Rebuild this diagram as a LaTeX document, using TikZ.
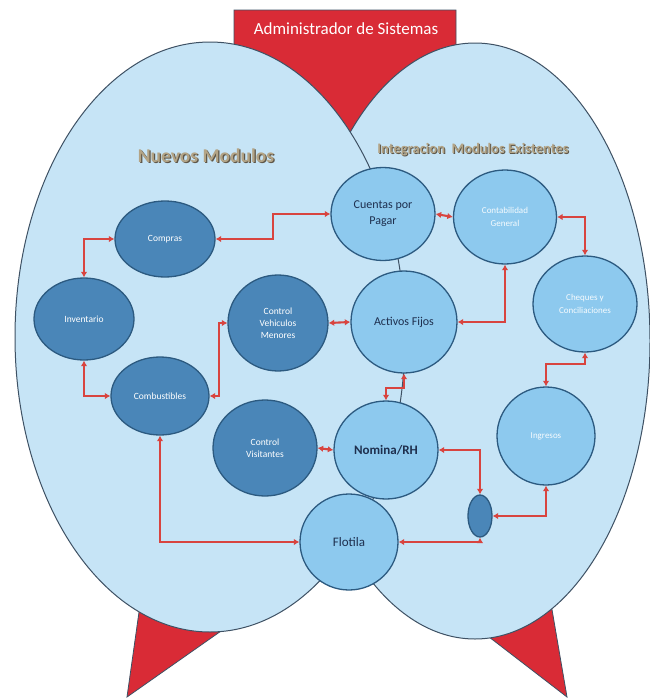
\documentclass[tikz,border=0pt]{standalone}
\usepackage{fontspec}
\setmainfont{Carlito}
\usetikzlibrary{arrows.meta,shapes.geometric}
\definecolor{bgblue}{HTML}{C6E4F6}
\definecolor{edgegray}{HTML}{3E5164}
\definecolor{darkblue}{HTML}{4A86B8}
\definecolor{lightblue}{HTML}{8DC9EE}
\definecolor{nodeedge}{HTML}{2C5A80}
\definecolor{navy}{HTML}{1E2F4E}
\definecolor{bannerred}{HTML}{D92B36}
\definecolor{linkred}{HTML}{D8443F}
\definecolor{titletan}{HTML}{B3A486}
\definecolor{titleshadow}{HTML}{5E5648}
\tikzset{
  bigell/.style={draw=edgegray, fill=bgblue, line width=1pt},
  redpart/.style={draw=edgegray, fill=bannerred, line width=0.8pt},
  mod/.style={ellipse, draw=nodeedge, line width=1.3pt, inner sep=0pt, align=center},
  darkmod/.style={mod, fill=darkblue, text=white, font=\fontsize{9.5}{12}\selectfont},
  lightmod/.style={mod, fill=lightblue, text=navy, font=\fontsize{12}{16}\selectfont},
  palemod/.style={mod, fill=lightblue, text=white!92!lightblue, font=\fontsize{9}{13}\selectfont},
  link/.style={draw=linkred, line width=2.1pt, <->, >={Latex[length=5.5pt,width=6.5pt]}},
  titletext/.style={font=\bfseries, text=titletan}
}
\begin{document}
\begin{tikzpicture}[x=1pt,y=-1pt]
\useasboundingbox (0,0) rectangle (650,699);
\fill[white] (0,0) rectangle (650,699);
% red shapes behind
\path[redpart] (234,10) -- (456,10) -- (456,110) -- (347,215) -- (234,110) -- cycle;
\path[redpart] (141,598) -- (251,610) -- (127,697) -- cycle;
\path[redpart] (467,620) -- (550,598) -- (567,697) -- cycle;
% big ellipses
\path[bigell] (475,341) ellipse [x radius=175, y radius=298];
\path[bigell] (210,337) ellipse [x radius=195, y radius=295];
% banner text
\node[font=\fontsize{17}{20}\selectfont, text=white] (adm) at (346,29) {Administrador de Sistemas};
% titles
\node[titletext, font=\fontsize{19.5}{22}\bfseries, text=titleshadow] (nmS) at (207.2,157.2) {Nuevos Modulos};
\node[titletext, font=\fontsize{19.5}{22}\bfseries] (nm) at (206,156) {Nuevos Modulos};
\node[titletext, font=\fontsize{14.5}{17}\bfseries, text=titleshadow] (imS) at (474,151) {Integracion\ \ Modulos Existentes};
\node[titletext, font=\fontsize{14.5}{17}\bfseries] (im) at (473,150) {Integracion\ \ Modulos Existentes};
% modules
\node[lightmod, minimum width=104pt, minimum height=93pt] (cxp) at (383,214) {Cuentas por\\Pagar};
\node[palemod, minimum width=103pt, minimum height=94pt] (cg) at (505,217) {Contabilidad\\General};
\node[darkmod, minimum width=100pt, minimum height=76pt] (com) at (165,239) {Compras};
\node[darkmod, minimum width=100pt, minimum height=82pt] (inv) at (84,319) {Inventario};
\node[darkmod, minimum width=100pt, minimum height=96pt] (cvm) at (278,323) {Control\\Vehiculos\\Menores};
\node[lightmod, minimum width=106pt, minimum height=102pt] (af) at (404,322) {Activos Fijos};
\node[palemod, minimum width=104pt, minimum height=96pt] (chq) at (585,304) {Cheques y\\Conciliaciones};
\node[darkmod, minimum width=98pt, minimum height=78pt] (cmb) at (160,396) {Combustibles};
\node[darkmod, minimum width=104pt, minimum height=96pt] (cvi) at (265,448) {Control\\Visitantes};
\node[lightmod, font=\fontsize{13}{16}\bfseries, minimum width=104pt, minimum height=98pt] (nom) at (386,450) {Nomina/RH};
\node[palemod, minimum width=98pt, minimum height=98pt] (ing) at (546,436) {Ingresos};
\node[mod, fill=darkblue, minimum width=24pt, minimum height=42pt] (sm) at (480,516) {};
\node[lightmod, font=\fontsize{13}{16}\selectfont, minimum width=98pt, minimum height=96pt] (flo) at (349,542) {Flotila};
% connectors
\draw[link] (com.east) -- ++(57,0) |- (cxp.west);
\draw[link] (inv.north) |- (com.west);
\draw[link] (inv.south) |- (cmb.west);
\draw[link] (cmb.east) -- ++(9,0) |- (cvm.west);
\draw[link] (cvm.east) -- (af.west);
\draw[link] (cxp.east) -- (cg.west);
\draw[link] (af.east) -| (cg.south);
\draw[link] (cg.east) -| (chq.north);
\draw[link] (chq.south) -- ++(0,11) -| (ing.north);
\draw[link] (ing.south) |- (sm.east);
\draw[link] (nom.east) -| (sm.north);
\draw[link] (sm.south) |- (flo.east);
\draw[link] (cmb.south) |- (flo.west);
\draw[link] (nom.west) -- (cvi.east);
\draw[link] (nom.north) -- ++(0,-12) -| (af.south);
\end{tikzpicture}
\end{document}
